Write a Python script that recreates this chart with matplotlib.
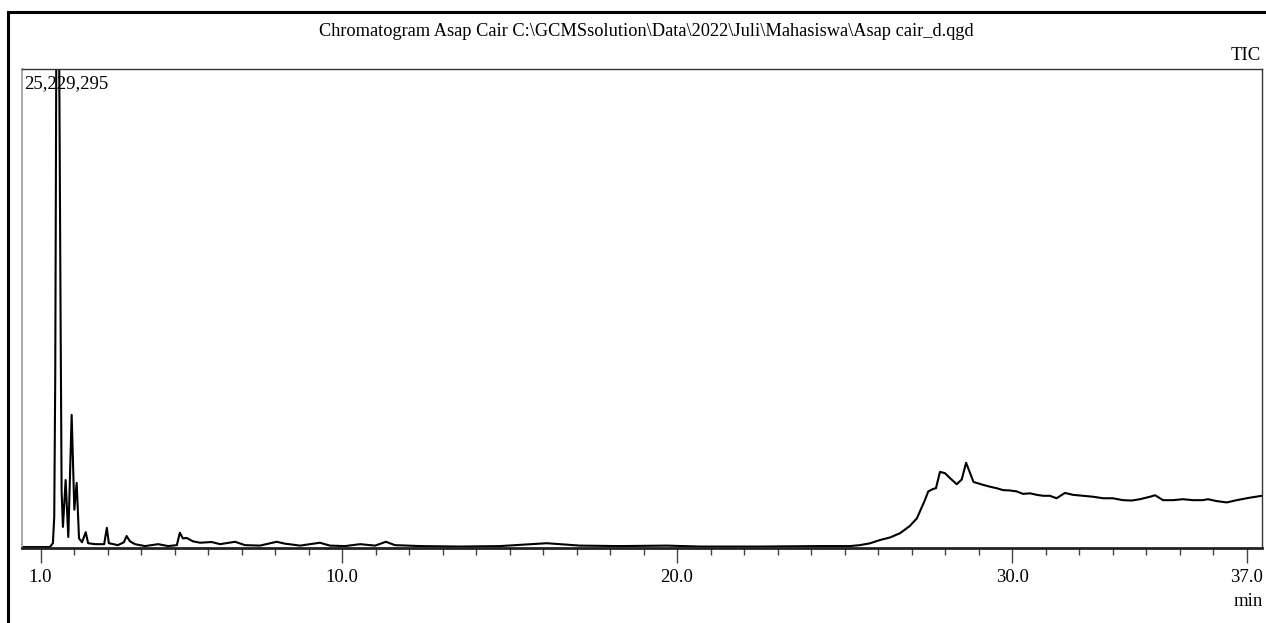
import matplotlib
matplotlib.use("Agg")
import matplotlib.pyplot as plt
from matplotlib.lines import Line2D
from matplotlib.ticker import FixedLocator, MultipleLocator

# ---- data ----
title_text = r"Chromatogram Asap Cair C:\GCMSsolution\Data\2022\Juli\Mahasiswa\Asap cair_d.qgd"
max_intensity = 25229295
major_ticks = [1.0, 10.0, 20.0, 30.0, 37.0]
major_labels = ["1.0", "10.0", "20.0", "30.0", "37.0"]

time_min = [0.46, 1.28, 1.37, 1.41, 1.44, 1.47, 1.50, 1.56, 1.60, 1.63, 1.67,
            1.75, 1.83, 1.93, 2.01, 2.08, 2.15, 2.24, 2.35, 2.42, 2.63, 2.90, 2.98,
            3.04, 3.31, 3.49, 3.57, 3.67, 3.82, 4.12, 4.51, 4.81, 5.07, 5.16, 5.25,
            5.36, 5.55, 5.76, 6.11, 6.36, 6.81, 7.10, 7.55, 8.05, 8.30, 8.75, 9.34,
            9.64, 10.09, 10.54, 10.99, 11.31, 11.58, 12.33, 13.52, 14.72, 16.11,
            17.10, 18.30, 19.69, 20.69, 22.48, 24.27,
            25.16, 25.46, 25.76, 26.06, 26.36, 26.66, 26.95, 27.16, 27.25, 27.40,
            27.50, 27.63, 27.73, 27.85, 28.00, 28.15, 28.35, 28.50, 28.63, 28.75,
            28.85, 29.13, 29.34, 29.54, 29.73, 29.94, 30.14, 30.33, 30.54, 30.74,
            30.93, 31.13, 31.33, 31.58, 31.82, 32.12, 32.42, 32.72, 33.01, 33.31,
            33.57, 33.82, 34.12, 34.27, 34.51, 34.81, 35.10, 35.40, 35.70, 35.85,
            36.11, 36.41, 36.71, 37.10, 37.46]

intensity = [50000, 50000, 252000, 1640000, 9000000, 25229295, 25229295,
             25229295, 12000000, 3000000, 1110000,
             3580000, 580000, 7010000, 2020000, 3430000, 505000, 303000, 833000,
             252000, 202000, 202000, 1060000, 252000, 151000, 303000, 631000,
             353000, 202000, 101000, 202000, 101000, 151000, 807000, 505000,
             530000, 353000, 278000, 315000, 202000, 328000, 151000, 126000,
             328000, 227000, 126000, 278000, 126000, 101000, 202000, 126000,
             328000, 151000, 101000, 76000, 101000, 252000, 126000, 101000,
             126000, 76000, 76000, 101000,
             101000, 151000, 247000, 421000, 555000, 782000, 1160000, 1560000,
             1920000, 2520000, 2980000, 3100000, 3150000, 4010000, 3940000,
             3680000, 3360000, 3610000, 4490000, 3940000, 3480000, 3330000,
             3230000, 3150000, 3050000, 3030000, 2980000, 2850000, 2880000,
             2800000, 2750000, 2750000, 2620000, 2900000, 2800000, 2750000,
             2700000, 2620000, 2620000, 2520000, 2500000, 2570000, 2700000,
             2780000, 2520000, 2520000, 2570000, 2520000, 2520000, 2570000,
             2470000, 2400000, 2520000, 2650000, 2750000]

W, H = 1266, 623
fig = plt.figure(figsize=(W / 100, H / 100), dpi=100)
fig.patch.set_facecolor("white")

serif = ["Liberation Serif", "DejaVu Serif"]

# outer frame (top and left edges visible)
fig.add_artist(Line2D([8 / W, 1.0], [1 - 12 / H, 1 - 12 / H], color="black", lw=2.2,
                      transform=fig.transFigure))
fig.add_artist(Line2D([8 / W, 8 / W], [0, 1 - 12 / H], color="black", lw=2.2,
                      transform=fig.transFigure))

ax = fig.add_axes([22 / W, (H - 548) / H, 1240 / W, 479 / H])
ax.plot(time_min, intensity, color="black", lw=1.5, clip_on=True)

t0 = 1 - (40.5 - 22) / 33.5
t1 = 37 + (1262 - 1246.5) / 33.5
ax.set_xlim(t0, t1)
ax.set_ylim(0, max_intensity)

for side in ["top", "right"]:
    ax.spines[side].set_color("#333333")
    ax.spines[side].set_linewidth(1.0)
ax.spines["left"].set_color("#999999")
ax.spines["left"].set_linewidth(1.2)
ax.spines["bottom"].set_color("#222222")
ax.spines["bottom"].set_linewidth(2.0)

ax.set_yticks([])
ax.xaxis.set_major_locator(FixedLocator(major_ticks))
ax.xaxis.set_minor_locator(MultipleLocator(1.0))
ax.set_xticklabels(major_labels, fontfamily=serif, fontsize=13.5)
ax.tick_params(axis="x", which="major", direction="out", length=11, width=1.0,
               color="#444444", pad=4)
ax.tick_params(axis="x", which="minor", direction="out", length=5, width=1.0,
               color="#444444")

fig.text(646 / W, 1 - 31 / H, title_text, ha="center", va="center",
         fontfamily=serif, fontsize=13.25)
fig.text(1261 / W, 1 - 56 / H, "TIC", ha="right", va="center",
         fontfamily=serif, fontsize=13.5)
fig.text(24 / W, 1 - 84 / H, "25,229,295", ha="left", va="center",
         fontfamily=serif, fontsize=13.5)
fig.text(1263 / W, 1 - 602 / H, "min", ha="right", va="center",
         fontfamily=serif, fontsize=13.5)

fig.savefig("out.png", dpi=100, facecolor="white")
